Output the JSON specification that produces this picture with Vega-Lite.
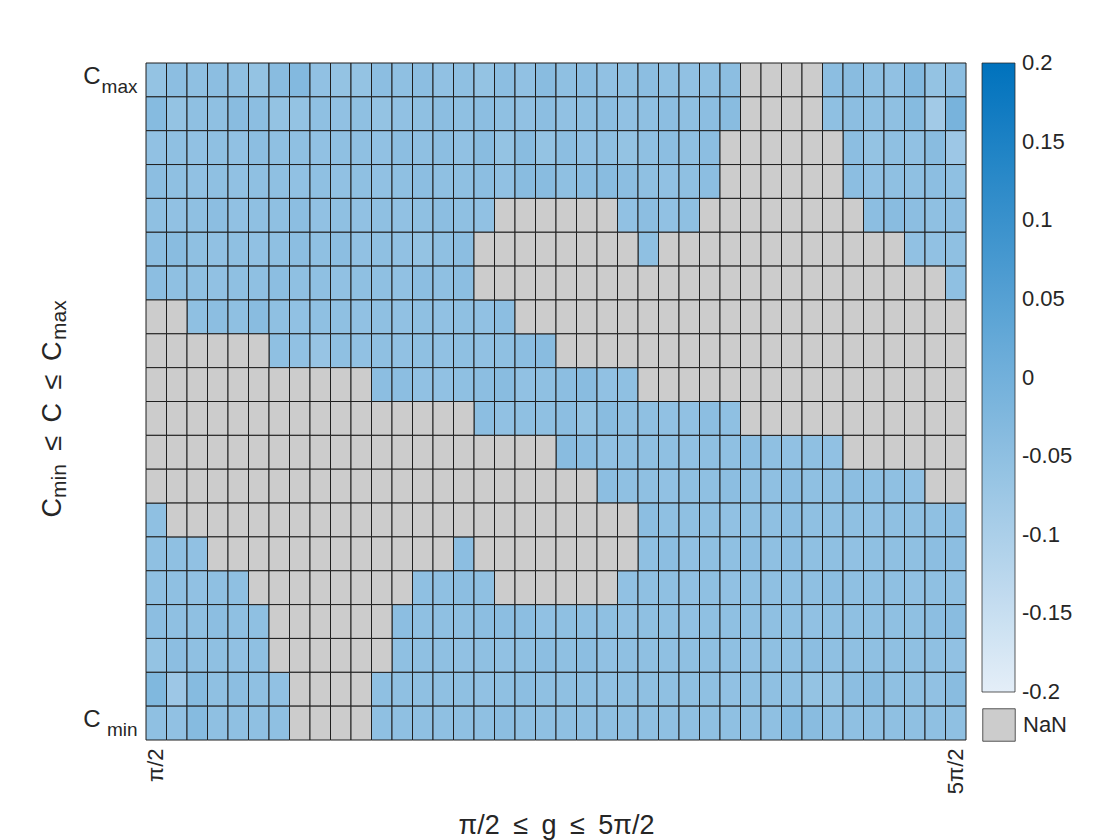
{
  "$schema": "https://vega.github.io/schema/vega-lite/v6.json",
  "width": 820,
  "height": 677,
  "autosize": {"type": "none"},
  "padding": {"left": 146, "top": 63, "right": 154, "bottom": 100},
  "background": "white",
  "config": {
    "font": "Liberation Sans",
    "view": {"stroke": null},
    "axis": {"domain": false, "ticks": false, "grid": false, "labelColor": "#262626", "titleColor": "#262626", "labelFont": "Liberation Sans", "titleFont": "Liberation Sans", "titleFontWeight": "normal"},
    "legend": {"labelColor": "#262626", "labelFont": "Liberation Sans"}
  },
  "data": {"values": [
{"g":1,"c":20,"v":-0.06},{"g":2,"c":20,"v":-0.045},{"g":3,"c":20,"v":-0.05},{"g":4,"c":20,"v":-0.045},{"g":5,"c":20,"v":-0.05},{"g":6,"c":20,"v":-0.06},{"g":7,"c":20,"v":-0.04},{"g":8,"c":20,"v":-0.03},{"g":9,"c":20,"v":-0.055},{"g":10,"c":20,"v":-0.06},{"g":11,"c":20,"v":-0.06},{"g":12,"c":20,"v":-0.045},{"g":13,"c":20,"v":-0.05},{"g":14,"c":20,"v":-0.045},{"g":15,"c":20,"v":-0.055},{"g":16,"c":20,"v":-0.05},{"g":17,"c":20,"v":-0.06},{"g":18,"c":20,"v":-0.045},{"g":19,"c":20,"v":-0.055},{"g":20,"c":20,"v":-0.04},{"g":21,"c":20,"v":-0.05},{"g":22,"c":20,"v":-0.045},{"g":23,"c":20,"v":-0.055},{"g":24,"c":20,"v":-0.05},{"g":25,"c":20,"v":-0.045},{"g":26,"c":20,"v":-0.05},{"g":27,"c":20,"v":-0.055},{"g":28,"c":20,"v":-0.05},{"g":29,"c":20,"v":-0.045},{"g":30,"c":20,"v":null},{"g":31,"c":20,"v":null},{"g":32,"c":20,"v":null},{"g":33,"c":20,"v":null},{"g":34,"c":20,"v":-0.045},{"g":35,"c":20,"v":-0.04},{"g":36,"c":20,"v":-0.05},{"g":37,"c":20,"v":-0.055},{"g":38,"c":20,"v":-0.03},{"g":39,"c":20,"v":-0.06},{"g":40,"c":20,"v":-0.045},
{"g":1,"c":19,"v":-0.035},{"g":2,"c":19,"v":-0.06},{"g":3,"c":19,"v":-0.05},{"g":4,"c":19,"v":-0.05},{"g":5,"c":19,"v":-0.04},{"g":6,"c":19,"v":-0.045},{"g":7,"c":19,"v":-0.06},{"g":8,"c":19,"v":-0.06},{"g":9,"c":19,"v":-0.05},{"g":10,"c":19,"v":-0.055},{"g":11,"c":19,"v":-0.05},{"g":12,"c":19,"v":-0.06},{"g":13,"c":19,"v":-0.055},{"g":14,"c":19,"v":-0.05},{"g":15,"c":19,"v":-0.045},{"g":16,"c":19,"v":-0.05},{"g":17,"c":19,"v":-0.045},{"g":18,"c":19,"v":-0.05},{"g":19,"c":19,"v":-0.055},{"g":20,"c":19,"v":-0.045},{"g":21,"c":19,"v":-0.055},{"g":22,"c":19,"v":-0.05},{"g":23,"c":19,"v":-0.045},{"g":24,"c":19,"v":-0.055},{"g":25,"c":19,"v":-0.05},{"g":26,"c":19,"v":-0.045},{"g":27,"c":19,"v":-0.05},{"g":28,"c":19,"v":-0.045},{"g":29,"c":19,"v":-0.04},{"g":30,"c":19,"v":null},{"g":31,"c":19,"v":null},{"g":32,"c":19,"v":null},{"g":33,"c":19,"v":null},{"g":34,"c":19,"v":-0.05},{"g":35,"c":19,"v":-0.045},{"g":36,"c":19,"v":-0.05},{"g":37,"c":19,"v":-0.05},{"g":38,"c":19,"v":-0.035},{"g":39,"c":19,"v":-0.085},{"g":40,"c":19,"v":-0.01},
{"g":1,"c":18,"v":-0.055},{"g":2,"c":18,"v":-0.05},{"g":3,"c":18,"v":-0.055},{"g":4,"c":18,"v":-0.05},{"g":5,"c":18,"v":-0.055},{"g":6,"c":18,"v":-0.045},{"g":7,"c":18,"v":-0.05},{"g":8,"c":18,"v":-0.05},{"g":9,"c":18,"v":-0.055},{"g":10,"c":18,"v":-0.05},{"g":11,"c":18,"v":-0.05},{"g":12,"c":18,"v":-0.055},{"g":13,"c":18,"v":-0.045},{"g":14,"c":18,"v":-0.05},{"g":15,"c":18,"v":-0.045},{"g":16,"c":18,"v":-0.055},{"g":17,"c":18,"v":-0.04},{"g":18,"c":18,"v":-0.06},{"g":19,"c":18,"v":-0.04},{"g":20,"c":18,"v":-0.06},{"g":21,"c":18,"v":-0.045},{"g":22,"c":18,"v":-0.055},{"g":23,"c":18,"v":-0.05},{"g":24,"c":18,"v":-0.06},{"g":25,"c":18,"v":-0.05},{"g":26,"c":18,"v":-0.045},{"g":27,"c":18,"v":-0.05},{"g":28,"c":18,"v":-0.045},{"g":29,"c":18,"v":null},{"g":30,"c":18,"v":null},{"g":31,"c":18,"v":null},{"g":32,"c":18,"v":null},{"g":33,"c":18,"v":null},{"g":34,"c":18,"v":null},{"g":35,"c":18,"v":-0.045},{"g":36,"c":18,"v":-0.06},{"g":37,"c":18,"v":-0.05},{"g":38,"c":18,"v":-0.055},{"g":39,"c":18,"v":-0.04},{"g":40,"c":18,"v":-0.075},
{"g":1,"c":17,"v":-0.045},{"g":2,"c":17,"v":-0.05},{"g":3,"c":17,"v":-0.055},{"g":4,"c":17,"v":-0.05},{"g":5,"c":17,"v":-0.055},{"g":6,"c":17,"v":-0.05},{"g":7,"c":17,"v":-0.05},{"g":8,"c":17,"v":-0.055},{"g":9,"c":17,"v":-0.05},{"g":10,"c":17,"v":-0.055},{"g":11,"c":17,"v":-0.05},{"g":12,"c":17,"v":-0.055},{"g":13,"c":17,"v":-0.05},{"g":14,"c":17,"v":-0.045},{"g":15,"c":17,"v":-0.05},{"g":16,"c":17,"v":-0.05},{"g":17,"c":17,"v":-0.045},{"g":18,"c":17,"v":-0.055},{"g":19,"c":17,"v":-0.04},{"g":20,"c":17,"v":-0.04},{"g":21,"c":17,"v":-0.05},{"g":22,"c":17,"v":-0.045},{"g":23,"c":17,"v":-0.04},{"g":24,"c":17,"v":-0.045},{"g":25,"c":17,"v":-0.05},{"g":26,"c":17,"v":-0.055},{"g":27,"c":17,"v":-0.05},{"g":28,"c":17,"v":-0.045},{"g":29,"c":17,"v":null},{"g":30,"c":17,"v":null},{"g":31,"c":17,"v":null},{"g":32,"c":17,"v":null},{"g":33,"c":17,"v":null},{"g":34,"c":17,"v":null},{"g":35,"c":17,"v":-0.045},{"g":36,"c":17,"v":-0.055},{"g":37,"c":17,"v":-0.05},{"g":38,"c":17,"v":-0.05},{"g":39,"c":17,"v":-0.045},{"g":40,"c":17,"v":-0.05},
{"g":1,"c":16,"v":-0.05},{"g":2,"c":16,"v":-0.055},{"g":3,"c":16,"v":-0.05},{"g":4,"c":16,"v":-0.045},{"g":5,"c":16,"v":-0.055},{"g":6,"c":16,"v":-0.05},{"g":7,"c":16,"v":-0.05},{"g":8,"c":16,"v":-0.045},{"g":9,"c":16,"v":-0.055},{"g":10,"c":16,"v":-0.05},{"g":11,"c":16,"v":-0.055},{"g":12,"c":16,"v":-0.05},{"g":13,"c":16,"v":-0.055},{"g":14,"c":16,"v":-0.05},{"g":15,"c":16,"v":-0.045},{"g":16,"c":16,"v":-0.05},{"g":17,"c":16,"v":-0.055},{"g":18,"c":16,"v":null},{"g":19,"c":16,"v":null},{"g":20,"c":16,"v":null},{"g":21,"c":16,"v":null},{"g":22,"c":16,"v":null},{"g":23,"c":16,"v":null},{"g":24,"c":16,"v":-0.055},{"g":25,"c":16,"v":-0.045},{"g":26,"c":16,"v":-0.055},{"g":27,"c":16,"v":-0.05},{"g":28,"c":16,"v":null},{"g":29,"c":16,"v":null},{"g":30,"c":16,"v":null},{"g":31,"c":16,"v":null},{"g":32,"c":16,"v":null},{"g":33,"c":16,"v":null},{"g":34,"c":16,"v":null},{"g":35,"c":16,"v":null},{"g":36,"c":16,"v":-0.045},{"g":37,"c":16,"v":-0.04},{"g":38,"c":16,"v":-0.045},{"g":39,"c":16,"v":-0.05},{"g":40,"c":16,"v":-0.045},
{"g":1,"c":15,"v":-0.045},{"g":2,"c":15,"v":-0.04},{"g":3,"c":15,"v":-0.05},{"g":4,"c":15,"v":-0.055},{"g":5,"c":15,"v":-0.05},{"g":6,"c":15,"v":-0.055},{"g":7,"c":15,"v":-0.05},{"g":8,"c":15,"v":-0.045},{"g":9,"c":15,"v":-0.05},{"g":10,"c":15,"v":-0.045},{"g":11,"c":15,"v":-0.055},{"g":12,"c":15,"v":-0.05},{"g":13,"c":15,"v":-0.055},{"g":14,"c":15,"v":-0.06},{"g":15,"c":15,"v":-0.05},{"g":16,"c":15,"v":-0.045},{"g":17,"c":15,"v":null},{"g":18,"c":15,"v":null},{"g":19,"c":15,"v":null},{"g":20,"c":15,"v":null},{"g":21,"c":15,"v":null},{"g":22,"c":15,"v":null},{"g":23,"c":15,"v":null},{"g":24,"c":15,"v":null},{"g":25,"c":15,"v":-0.05},{"g":26,"c":15,"v":null},{"g":27,"c":15,"v":null},{"g":28,"c":15,"v":null},{"g":29,"c":15,"v":null},{"g":30,"c":15,"v":null},{"g":31,"c":15,"v":null},{"g":32,"c":15,"v":null},{"g":33,"c":15,"v":null},{"g":34,"c":15,"v":null},{"g":35,"c":15,"v":null},{"g":36,"c":15,"v":null},{"g":37,"c":15,"v":null},{"g":38,"c":15,"v":-0.055},{"g":39,"c":15,"v":-0.055},{"g":40,"c":15,"v":-0.05},
{"g":1,"c":14,"v":-0.045},{"g":2,"c":14,"v":-0.05},{"g":3,"c":14,"v":-0.05},{"g":4,"c":14,"v":-0.055},{"g":5,"c":14,"v":-0.05},{"g":6,"c":14,"v":-0.05},{"g":7,"c":14,"v":-0.045},{"g":8,"c":14,"v":-0.05},{"g":9,"c":14,"v":-0.05},{"g":10,"c":14,"v":-0.055},{"g":11,"c":14,"v":-0.05},{"g":12,"c":14,"v":-0.05},{"g":13,"c":14,"v":-0.055},{"g":14,"c":14,"v":-0.045},{"g":15,"c":14,"v":-0.05},{"g":16,"c":14,"v":-0.045},{"g":17,"c":14,"v":null},{"g":18,"c":14,"v":null},{"g":19,"c":14,"v":null},{"g":20,"c":14,"v":null},{"g":21,"c":14,"v":null},{"g":22,"c":14,"v":null},{"g":23,"c":14,"v":null},{"g":24,"c":14,"v":null},{"g":25,"c":14,"v":null},{"g":26,"c":14,"v":null},{"g":27,"c":14,"v":null},{"g":28,"c":14,"v":null},{"g":29,"c":14,"v":null},{"g":30,"c":14,"v":null},{"g":31,"c":14,"v":null},{"g":32,"c":14,"v":null},{"g":33,"c":14,"v":null},{"g":34,"c":14,"v":null},{"g":35,"c":14,"v":null},{"g":36,"c":14,"v":null},{"g":37,"c":14,"v":null},{"g":38,"c":14,"v":null},{"g":39,"c":14,"v":null},{"g":40,"c":14,"v":-0.05},
{"g":1,"c":13,"v":null},{"g":2,"c":13,"v":null},{"g":3,"c":13,"v":-0.05},{"g":4,"c":13,"v":-0.045},{"g":5,"c":13,"v":-0.05},{"g":6,"c":13,"v":-0.04},{"g":7,"c":13,"v":-0.05},{"g":8,"c":13,"v":-0.055},{"g":9,"c":13,"v":-0.05},{"g":10,"c":13,"v":-0.05},{"g":11,"c":13,"v":-0.055},{"g":12,"c":13,"v":-0.05},{"g":13,"c":13,"v":-0.055},{"g":14,"c":13,"v":-0.05},{"g":15,"c":13,"v":-0.055},{"g":16,"c":13,"v":-0.05},{"g":17,"c":13,"v":-0.055},{"g":18,"c":13,"v":-0.045},{"g":19,"c":13,"v":null},{"g":20,"c":13,"v":null},{"g":21,"c":13,"v":null},{"g":22,"c":13,"v":null},{"g":23,"c":13,"v":null},{"g":24,"c":13,"v":null},{"g":25,"c":13,"v":null},{"g":26,"c":13,"v":null},{"g":27,"c":13,"v":null},{"g":28,"c":13,"v":null},{"g":29,"c":13,"v":null},{"g":30,"c":13,"v":null},{"g":31,"c":13,"v":null},{"g":32,"c":13,"v":null},{"g":33,"c":13,"v":null},{"g":34,"c":13,"v":null},{"g":35,"c":13,"v":null},{"g":36,"c":13,"v":null},{"g":37,"c":13,"v":null},{"g":38,"c":13,"v":null},{"g":39,"c":13,"v":null},{"g":40,"c":13,"v":null},
{"g":1,"c":12,"v":null},{"g":2,"c":12,"v":null},{"g":3,"c":12,"v":null},{"g":4,"c":12,"v":null},{"g":5,"c":12,"v":null},{"g":6,"c":12,"v":null},{"g":7,"c":12,"v":-0.05},{"g":8,"c":12,"v":-0.055},{"g":9,"c":12,"v":-0.065},{"g":10,"c":12,"v":-0.05},{"g":11,"c":12,"v":-0.055},{"g":12,"c":12,"v":-0.05},{"g":13,"c":12,"v":-0.055},{"g":14,"c":12,"v":-0.05},{"g":15,"c":12,"v":-0.055},{"g":16,"c":12,"v":-0.05},{"g":17,"c":12,"v":-0.055},{"g":18,"c":12,"v":-0.05},{"g":19,"c":12,"v":-0.045},{"g":20,"c":12,"v":-0.04},{"g":21,"c":12,"v":null},{"g":22,"c":12,"v":null},{"g":23,"c":12,"v":null},{"g":24,"c":12,"v":null},{"g":25,"c":12,"v":null},{"g":26,"c":12,"v":null},{"g":27,"c":12,"v":null},{"g":28,"c":12,"v":null},{"g":29,"c":12,"v":null},{"g":30,"c":12,"v":null},{"g":31,"c":12,"v":null},{"g":32,"c":12,"v":null},{"g":33,"c":12,"v":null},{"g":34,"c":12,"v":null},{"g":35,"c":12,"v":null},{"g":36,"c":12,"v":null},{"g":37,"c":12,"v":null},{"g":38,"c":12,"v":null},{"g":39,"c":12,"v":null},{"g":40,"c":12,"v":null},
{"g":1,"c":11,"v":null},{"g":2,"c":11,"v":null},{"g":3,"c":11,"v":null},{"g":4,"c":11,"v":null},{"g":5,"c":11,"v":null},{"g":6,"c":11,"v":null},{"g":7,"c":11,"v":null},{"g":8,"c":11,"v":null},{"g":9,"c":11,"v":null},{"g":10,"c":11,"v":null},{"g":11,"c":11,"v":null},{"g":12,"c":11,"v":-0.045},{"g":13,"c":11,"v":-0.045},{"g":14,"c":11,"v":-0.055},{"g":15,"c":11,"v":-0.055},{"g":16,"c":11,"v":-0.05},{"g":17,"c":11,"v":-0.045},{"g":18,"c":11,"v":-0.04},{"g":19,"c":11,"v":-0.055},{"g":20,"c":11,"v":-0.05},{"g":21,"c":11,"v":-0.045},{"g":22,"c":11,"v":-0.04},{"g":23,"c":11,"v":-0.055},{"g":24,"c":11,"v":-0.05},{"g":25,"c":11,"v":null},{"g":26,"c":11,"v":null},{"g":27,"c":11,"v":null},{"g":28,"c":11,"v":null},{"g":29,"c":11,"v":null},{"g":30,"c":11,"v":null},{"g":31,"c":11,"v":null},{"g":32,"c":11,"v":null},{"g":33,"c":11,"v":null},{"g":34,"c":11,"v":null},{"g":35,"c":11,"v":null},{"g":36,"c":11,"v":null},{"g":37,"c":11,"v":null},{"g":38,"c":11,"v":null},{"g":39,"c":11,"v":null},{"g":40,"c":11,"v":null},
{"g":1,"c":10,"v":null},{"g":2,"c":10,"v":null},{"g":3,"c":10,"v":null},{"g":4,"c":10,"v":null},{"g":5,"c":10,"v":null},{"g":6,"c":10,"v":null},{"g":7,"c":10,"v":null},{"g":8,"c":10,"v":null},{"g":9,"c":10,"v":null},{"g":10,"c":10,"v":null},{"g":11,"c":10,"v":null},{"g":12,"c":10,"v":null},{"g":13,"c":10,"v":null},{"g":14,"c":10,"v":null},{"g":15,"c":10,"v":null},{"g":16,"c":10,"v":null},{"g":17,"c":10,"v":-0.045},{"g":18,"c":10,"v":-0.055},{"g":19,"c":10,"v":-0.05},{"g":20,"c":10,"v":-0.05},{"g":21,"c":10,"v":-0.045},{"g":22,"c":10,"v":-0.06},{"g":23,"c":10,"v":-0.04},{"g":24,"c":10,"v":-0.05},{"g":25,"c":10,"v":-0.05},{"g":26,"c":10,"v":-0.055},{"g":27,"c":10,"v":-0.055},{"g":28,"c":10,"v":-0.045},{"g":29,"c":10,"v":-0.05},{"g":30,"c":10,"v":null},{"g":31,"c":10,"v":null},{"g":32,"c":10,"v":null},{"g":33,"c":10,"v":null},{"g":34,"c":10,"v":null},{"g":35,"c":10,"v":null},{"g":36,"c":10,"v":null},{"g":37,"c":10,"v":null},{"g":38,"c":10,"v":null},{"g":39,"c":10,"v":null},{"g":40,"c":10,"v":null},
{"g":1,"c":9,"v":null},{"g":2,"c":9,"v":null},{"g":3,"c":9,"v":null},{"g":4,"c":9,"v":null},{"g":5,"c":9,"v":null},{"g":6,"c":9,"v":null},{"g":7,"c":9,"v":null},{"g":8,"c":9,"v":null},{"g":9,"c":9,"v":null},{"g":10,"c":9,"v":null},{"g":11,"c":9,"v":null},{"g":12,"c":9,"v":null},{"g":13,"c":9,"v":null},{"g":14,"c":9,"v":null},{"g":15,"c":9,"v":null},{"g":16,"c":9,"v":null},{"g":17,"c":9,"v":null},{"g":18,"c":9,"v":null},{"g":19,"c":9,"v":null},{"g":20,"c":9,"v":null},{"g":21,"c":9,"v":-0.04},{"g":22,"c":9,"v":-0.045},{"g":23,"c":9,"v":-0.055},{"g":24,"c":9,"v":-0.05},{"g":25,"c":9,"v":-0.05},{"g":26,"c":9,"v":-0.05},{"g":27,"c":9,"v":-0.055},{"g":28,"c":9,"v":-0.05},{"g":29,"c":9,"v":-0.05},{"g":30,"c":9,"v":-0.045},{"g":31,"c":9,"v":-0.05},{"g":32,"c":9,"v":-0.055},{"g":33,"c":9,"v":-0.05},{"g":34,"c":9,"v":-0.055},{"g":35,"c":9,"v":null},{"g":36,"c":9,"v":null},{"g":37,"c":9,"v":null},{"g":38,"c":9,"v":null},{"g":39,"c":9,"v":null},{"g":40,"c":9,"v":null},
{"g":1,"c":8,"v":null},{"g":2,"c":8,"v":null},{"g":3,"c":8,"v":null},{"g":4,"c":8,"v":null},{"g":5,"c":8,"v":null},{"g":6,"c":8,"v":null},{"g":7,"c":8,"v":null},{"g":8,"c":8,"v":null},{"g":9,"c":8,"v":null},{"g":10,"c":8,"v":null},{"g":11,"c":8,"v":null},{"g":12,"c":8,"v":null},{"g":13,"c":8,"v":null},{"g":14,"c":8,"v":null},{"g":15,"c":8,"v":null},{"g":16,"c":8,"v":null},{"g":17,"c":8,"v":null},{"g":18,"c":8,"v":null},{"g":19,"c":8,"v":null},{"g":20,"c":8,"v":null},{"g":21,"c":8,"v":null},{"g":22,"c":8,"v":null},{"g":23,"c":8,"v":-0.045},{"g":24,"c":8,"v":-0.05},{"g":25,"c":8,"v":-0.05},{"g":26,"c":8,"v":-0.055},{"g":27,"c":8,"v":-0.05},{"g":28,"c":8,"v":-0.05},{"g":29,"c":8,"v":-0.045},{"g":30,"c":8,"v":-0.05},{"g":31,"c":8,"v":-0.05},{"g":32,"c":8,"v":-0.045},{"g":33,"c":8,"v":-0.05},{"g":34,"c":8,"v":-0.05},{"g":35,"c":8,"v":-0.045},{"g":36,"c":8,"v":-0.05},{"g":37,"c":8,"v":-0.05},{"g":38,"c":8,"v":-0.055},{"g":39,"c":8,"v":null},{"g":40,"c":8,"v":null},
{"g":1,"c":7,"v":-0.05},{"g":2,"c":7,"v":null},{"g":3,"c":7,"v":null},{"g":4,"c":7,"v":null},{"g":5,"c":7,"v":null},{"g":6,"c":7,"v":null},{"g":7,"c":7,"v":null},{"g":8,"c":7,"v":null},{"g":9,"c":7,"v":null},{"g":10,"c":7,"v":null},{"g":11,"c":7,"v":null},{"g":12,"c":7,"v":null},{"g":13,"c":7,"v":null},{"g":14,"c":7,"v":null},{"g":15,"c":7,"v":null},{"g":16,"c":7,"v":null},{"g":17,"c":7,"v":null},{"g":18,"c":7,"v":null},{"g":19,"c":7,"v":null},{"g":20,"c":7,"v":null},{"g":21,"c":7,"v":null},{"g":22,"c":7,"v":null},{"g":23,"c":7,"v":null},{"g":24,"c":7,"v":null},{"g":25,"c":7,"v":-0.045},{"g":26,"c":7,"v":-0.05},{"g":27,"c":7,"v":-0.05},{"g":28,"c":7,"v":-0.05},{"g":29,"c":7,"v":-0.055},{"g":30,"c":7,"v":-0.05},{"g":31,"c":7,"v":-0.05},{"g":32,"c":7,"v":-0.045},{"g":33,"c":7,"v":-0.05},{"g":34,"c":7,"v":-0.05},{"g":35,"c":7,"v":-0.05},{"g":36,"c":7,"v":-0.055},{"g":37,"c":7,"v":-0.05},{"g":38,"c":7,"v":-0.05},{"g":39,"c":7,"v":-0.05},{"g":40,"c":7,"v":-0.045},
{"g":1,"c":6,"v":-0.05},{"g":2,"c":6,"v":-0.05},{"g":3,"c":6,"v":-0.055},{"g":4,"c":6,"v":null},{"g":5,"c":6,"v":null},{"g":6,"c":6,"v":null},{"g":7,"c":6,"v":null},{"g":8,"c":6,"v":null},{"g":9,"c":6,"v":null},{"g":10,"c":6,"v":null},{"g":11,"c":6,"v":null},{"g":12,"c":6,"v":null},{"g":13,"c":6,"v":null},{"g":14,"c":6,"v":null},{"g":15,"c":6,"v":null},{"g":16,"c":6,"v":-0.045},{"g":17,"c":6,"v":null},{"g":18,"c":6,"v":null},{"g":19,"c":6,"v":null},{"g":20,"c":6,"v":null},{"g":21,"c":6,"v":null},{"g":22,"c":6,"v":null},{"g":23,"c":6,"v":null},{"g":24,"c":6,"v":null},{"g":25,"c":6,"v":-0.05},{"g":26,"c":6,"v":-0.045},{"g":27,"c":6,"v":-0.055},{"g":28,"c":6,"v":-0.05},{"g":29,"c":6,"v":-0.05},{"g":30,"c":6,"v":-0.045},{"g":31,"c":6,"v":-0.05},{"g":32,"c":6,"v":-0.045},{"g":33,"c":6,"v":-0.05},{"g":34,"c":6,"v":-0.05},{"g":35,"c":6,"v":-0.055},{"g":36,"c":6,"v":-0.05},{"g":37,"c":6,"v":-0.05},{"g":38,"c":6,"v":-0.05},{"g":39,"c":6,"v":-0.045},{"g":40,"c":6,"v":-0.045},
{"g":1,"c":5,"v":-0.05},{"g":2,"c":5,"v":-0.05},{"g":3,"c":5,"v":-0.055},{"g":4,"c":5,"v":-0.05},{"g":5,"c":5,"v":-0.05},{"g":6,"c":5,"v":null},{"g":7,"c":5,"v":null},{"g":8,"c":5,"v":null},{"g":9,"c":5,"v":null},{"g":10,"c":5,"v":null},{"g":11,"c":5,"v":null},{"g":12,"c":5,"v":null},{"g":13,"c":5,"v":null},{"g":14,"c":5,"v":-0.05},{"g":15,"c":5,"v":-0.05},{"g":16,"c":5,"v":-0.045},{"g":17,"c":5,"v":-0.05},{"g":18,"c":5,"v":null},{"g":19,"c":5,"v":null},{"g":20,"c":5,"v":null},{"g":21,"c":5,"v":null},{"g":22,"c":5,"v":null},{"g":23,"c":5,"v":null},{"g":24,"c":5,"v":-0.055},{"g":25,"c":5,"v":-0.05},{"g":26,"c":5,"v":-0.05},{"g":27,"c":5,"v":-0.055},{"g":28,"c":5,"v":-0.05},{"g":29,"c":5,"v":-0.055},{"g":30,"c":5,"v":-0.05},{"g":31,"c":5,"v":-0.05},{"g":32,"c":5,"v":-0.05},{"g":33,"c":5,"v":-0.05},{"g":34,"c":5,"v":-0.045},{"g":35,"c":5,"v":-0.05},{"g":36,"c":5,"v":-0.05},{"g":37,"c":5,"v":-0.05},{"g":38,"c":5,"v":-0.055},{"g":39,"c":5,"v":-0.05},{"g":40,"c":5,"v":-0.05},
{"g":1,"c":4,"v":-0.045},{"g":2,"c":4,"v":-0.05},{"g":3,"c":4,"v":-0.05},{"g":4,"c":4,"v":-0.045},{"g":5,"c":4,"v":-0.05},{"g":6,"c":4,"v":-0.05},{"g":7,"c":4,"v":null},{"g":8,"c":4,"v":null},{"g":9,"c":4,"v":null},{"g":10,"c":4,"v":null},{"g":11,"c":4,"v":null},{"g":12,"c":4,"v":null},{"g":13,"c":4,"v":-0.045},{"g":14,"c":4,"v":-0.05},{"g":15,"c":4,"v":-0.05},{"g":16,"c":4,"v":-0.05},{"g":17,"c":4,"v":-0.045},{"g":18,"c":4,"v":-0.045},{"g":19,"c":4,"v":-0.045},{"g":20,"c":4,"v":-0.055},{"g":21,"c":4,"v":-0.05},{"g":22,"c":4,"v":-0.05},{"g":23,"c":4,"v":-0.05},{"g":24,"c":4,"v":-0.055},{"g":25,"c":4,"v":-0.05},{"g":26,"c":4,"v":-0.05},{"g":27,"c":4,"v":-0.055},{"g":28,"c":4,"v":-0.05},{"g":29,"c":4,"v":-0.05},{"g":30,"c":4,"v":-0.05},{"g":31,"c":4,"v":-0.05},{"g":32,"c":4,"v":-0.05},{"g":33,"c":4,"v":-0.055},{"g":34,"c":4,"v":-0.05},{"g":35,"c":4,"v":-0.05},{"g":36,"c":4,"v":-0.05},{"g":37,"c":4,"v":-0.05},{"g":38,"c":4,"v":-0.05},{"g":39,"c":4,"v":-0.045},{"g":40,"c":4,"v":-0.04},
{"g":1,"c":3,"v":-0.06},{"g":2,"c":3,"v":-0.045},{"g":3,"c":3,"v":-0.05},{"g":4,"c":3,"v":-0.05},{"g":5,"c":3,"v":-0.055},{"g":6,"c":3,"v":-0.05},{"g":7,"c":3,"v":null},{"g":8,"c":3,"v":null},{"g":9,"c":3,"v":null},{"g":10,"c":3,"v":null},{"g":11,"c":3,"v":null},{"g":12,"c":3,"v":null},{"g":13,"c":3,"v":-0.05},{"g":14,"c":3,"v":-0.05},{"g":15,"c":3,"v":-0.05},{"g":16,"c":3,"v":-0.055},{"g":17,"c":3,"v":-0.05},{"g":18,"c":3,"v":-0.055},{"g":19,"c":3,"v":-0.05},{"g":20,"c":3,"v":-0.045},{"g":21,"c":3,"v":-0.05},{"g":22,"c":3,"v":-0.045},{"g":23,"c":3,"v":-0.055},{"g":24,"c":3,"v":-0.05},{"g":25,"c":3,"v":-0.05},{"g":26,"c":3,"v":-0.05},{"g":27,"c":3,"v":-0.05},{"g":28,"c":3,"v":-0.05},{"g":29,"c":3,"v":-0.05},{"g":30,"c":3,"v":-0.055},{"g":31,"c":3,"v":-0.05},{"g":32,"c":3,"v":-0.05},{"g":33,"c":3,"v":-0.045},{"g":34,"c":3,"v":-0.05},{"g":35,"c":3,"v":-0.05},{"g":36,"c":3,"v":-0.05},{"g":37,"c":3,"v":-0.05},{"g":38,"c":3,"v":-0.05},{"g":39,"c":3,"v":-0.05},{"g":40,"c":3,"v":-0.055},
{"g":1,"c":2,"v":-0.025},{"g":2,"c":2,"v":-0.075},{"g":3,"c":2,"v":-0.035},{"g":4,"c":2,"v":-0.05},{"g":5,"c":2,"v":-0.045},{"g":6,"c":2,"v":-0.05},{"g":7,"c":2,"v":-0.055},{"g":8,"c":2,"v":null},{"g":9,"c":2,"v":null},{"g":10,"c":2,"v":null},{"g":11,"c":2,"v":null},{"g":12,"c":2,"v":-0.05},{"g":13,"c":2,"v":-0.05},{"g":14,"c":2,"v":-0.05},{"g":15,"c":2,"v":-0.05},{"g":16,"c":2,"v":-0.05},{"g":17,"c":2,"v":-0.055},{"g":18,"c":2,"v":-0.05},{"g":19,"c":2,"v":-0.045},{"g":20,"c":2,"v":-0.05},{"g":21,"c":2,"v":-0.05},{"g":22,"c":2,"v":-0.05},{"g":23,"c":2,"v":-0.055},{"g":24,"c":2,"v":-0.05},{"g":25,"c":2,"v":-0.05},{"g":26,"c":2,"v":-0.05},{"g":27,"c":2,"v":-0.05},{"g":28,"c":2,"v":-0.05},{"g":29,"c":2,"v":-0.055},{"g":30,"c":2,"v":-0.05},{"g":31,"c":2,"v":-0.05},{"g":32,"c":2,"v":-0.05},{"g":33,"c":2,"v":-0.06},{"g":34,"c":2,"v":-0.06},{"g":35,"c":2,"v":-0.045},{"g":36,"c":2,"v":-0.04},{"g":37,"c":2,"v":-0.05},{"g":38,"c":2,"v":-0.05},{"g":39,"c":2,"v":-0.055},{"g":40,"c":2,"v":-0.04},
{"g":1,"c":1,"v":-0.05},{"g":2,"c":1,"v":-0.055},{"g":3,"c":1,"v":-0.035},{"g":4,"c":1,"v":-0.05},{"g":5,"c":1,"v":-0.05},{"g":6,"c":1,"v":-0.05},{"g":7,"c":1,"v":-0.05},{"g":8,"c":1,"v":null},{"g":9,"c":1,"v":null},{"g":10,"c":1,"v":null},{"g":11,"c":1,"v":null},{"g":12,"c":1,"v":-0.05},{"g":13,"c":1,"v":-0.05},{"g":14,"c":1,"v":-0.05},{"g":15,"c":1,"v":-0.05},{"g":16,"c":1,"v":-0.05},{"g":17,"c":1,"v":-0.05},{"g":18,"c":1,"v":-0.045},{"g":19,"c":1,"v":-0.05},{"g":20,"c":1,"v":-0.05},{"g":21,"c":1,"v":-0.05},{"g":22,"c":1,"v":-0.05},{"g":23,"c":1,"v":-0.05},{"g":24,"c":1,"v":-0.05},{"g":25,"c":1,"v":-0.05},{"g":26,"c":1,"v":-0.05},{"g":27,"c":1,"v":-0.05},{"g":28,"c":1,"v":-0.05},{"g":29,"c":1,"v":-0.05},{"g":30,"c":1,"v":-0.05},{"g":31,"c":1,"v":-0.05},{"g":32,"c":1,"v":-0.035},{"g":33,"c":1,"v":-0.04},{"g":34,"c":1,"v":-0.05},{"g":35,"c":1,"v":-0.05},{"g":36,"c":1,"v":-0.05},{"g":37,"c":1,"v":-0.05},{"g":38,"c":1,"v":-0.05},{"g":39,"c":1,"v":-0.05},{"g":40,"c":1,"v":-0.05}
  ]},
  "encoding": {
    "x": {
      "field": "g", "type": "ordinal",
      "scale": {"domain": [1,2,3,4,5,6,7,8,9,10,11,12,13,14,15,16,17,18,19,20,21,22,23,24,25,26,27,28,29,30,31,32,33,34,35,36,37,38,39,40], "paddingInner": 0, "paddingOuter": 0},
      "axis": {
        "orient": "bottom",
        "values": [1, 40],
        "labelExpr": "datum.value == 1 ? 'π/2' : '5π/2'",
        "labelAngle": -90,
        "labelFontSize": 22,
        "labelPadding": 8,
        "title": "π/2\u2002≤\u2002g\u2002≤\u20025π/2",
        "titleFontSize": 27,
        "titleY": 93,
        "titleBaseline": "alphabetic"
      }
    }
  },
  "layer": [
    {
      "transform": [{"filter": "datum.v != null"}],
      "mark": {"type": "rect", "stroke": "#1f1f1f", "strokeWidth": 1},
      "encoding": {
        "y": {
          "field": "c", "type": "ordinal",
          "scale": {"domain": [20,19,18,17,16,15,14,13,12,11,10,9,8,7,6,5,4,3,2,1], "paddingInner": 0, "paddingOuter": 0},
          "axis": {
            "orient": "left",
            "values": [20, 1],
            "labelExpr": "'C'",
            "labelFontSize": 24,
            "labelPadding": 46,
            "labelOffset": -3,
            "title": "C\u2003\u2005\u2002≤\u2002C\u2002≤\u2002C",
            "titleFontSize": 27,
            "titleX": -86,
            "titleY": 454,
            "titleAngle": -90,
            "titleAlign": "left",
            "titleBaseline": "alphabetic",
            "titleLimit": 400
          }
        },
        "color": {
          "field": "v", "type": "quantitative",
          "scale": {"domain": [-0.2, 0.2], "range": ["#e4eef8", "#0072bd"], "interpolate": "rgb"},
          "legend": {
            "orient": "none", "legendX": 836, "legendY": 0,
            "direction": "vertical", "title": null, "padding": 0,
            "gradientLength": 629, "gradientThickness": 33,
            "gradientStrokeColor": "#262626", "gradientStrokeWidth": 0.75,
            "values": [-0.2, -0.15, -0.1, -0.05, 0, 0.05, 0.1, 0.15, 0.2],
            "labelExpr": "'' + datum.value",
            "labelFontSize": 22, "labelOffset": 7, "labelOverlap": false,
            "labelBaseline": "middle",
            "encoding": {"labels": {"baseline": {"value": "middle"}}}
          }
        }
      }
    },
    {
      "transform": [{"filter": "datum.v == null"}],
      "mark": {"type": "rect", "stroke": "#1f1f1f", "strokeWidth": 1},
      "encoding": {
        "y": {
          "field": "c", "type": "ordinal",
          "scale": {"domain": [20,19,18,17,16,15,14,13,12,11,10,9,8,7,6,5,4,3,2,1], "paddingInner": 0, "paddingOuter": 0},
          "axis": {
            "orient": "left",
            "values": [20, 1],
            "labelExpr": "datum.value == 20 ? 'max' : 'min'",
            "labelFontSize": 19,
            "labelPadding": 9,
            "labelOffset": 7,
            "title": "min\u2003\u2003\u2003\u2003\u2003\u2002\u2005\u2006max",
            "titleFontSize": 21,
            "titleX": -81,
            "titleY": 434.5,
            "titleAngle": -90,
            "titleAlign": "left",
            "titleBaseline": "alphabetic",
            "titleLimit": 400
          }
        },
        "fill": {
          "datum": "NaN", "type": "nominal",
          "scale": {"domain": ["NaN"], "range": ["#cccccc"]},
          "legend": {
            "orient": "none", "legendX": 836, "legendY": 645,
            "title": null, "padding": 0,
            "symbolType": "square", "symbolSize": 1056,
            "symbolStrokeColor": "#262626", "symbolStrokeWidth": 0.75,
            "labelFontSize": 22, "labelOffset": 7
          }
        }
      }
    }
  ],
  "resolve": {"scale": {"y": "independent"}, "axis": {"y": "independent"}}
}
